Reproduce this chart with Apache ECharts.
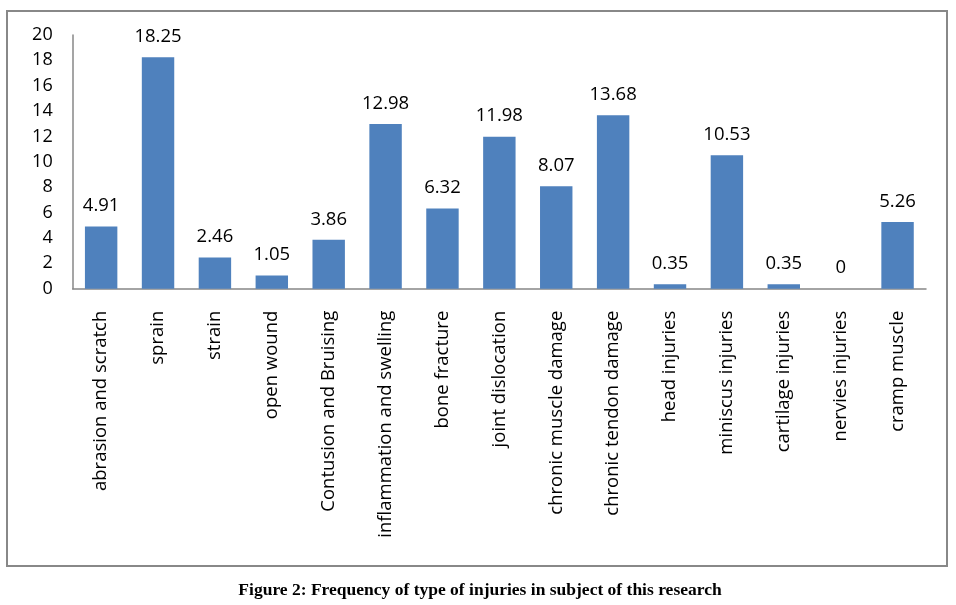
<!DOCTYPE html>
<html>
<head>
<meta charset="utf-8">
<script src="https://cdn.jsdelivr.net/npm/echarts@6/dist/echarts.min.js"></script>
<style>
html,body{margin:0;padding:0;background:#fff;}
#chart{width:956px;height:605px;}
</style>
</head>
<body>
<div id="chart"></div>
<script>
const categories = ["abrasion and scratch","sprain","strain","open wound","Contusion and Bruising","inflammation and swelling","bone fracture","joint dislocation","chronic muscle damage","chronic tendon damage","head injuries","miniscus injuries","cartilage injuries","nervies injuries","cramp muscle"];
const values = [4.91,18.25,2.46,1.05,3.86,12.98,6.32,11.98,8.07,13.68,0.35,10.53,0.35,0,5.26];
const captionText = "Figure 2: Frequency of type of injuries in subject of this research";

const chart = echarts.init(document.getElementById('chart'), null, {renderer:'canvas'});
const font = "'Open Sans', sans-serif";
chart.setOption({
  animation: false,
  backgroundColor: '#fff',
  grid: {left: 72.7, right: 30, top: 35, bottom: 316.3, containLabel: false},
  xAxis: {
    type: 'category',
    data: categories,
    axisLine: {lineStyle: {color: '#878787', width: 1.5}},
    axisTick: {show: false},
    axisLabel: {rotate: 90, interval: 0, margin: 22, color: '#000', fontFamily: font, fontSize: 18.5}
  },
  yAxis: {
    type: 'value',
    min: 0, max: 20, interval: 2,
    splitLine: {show: false},
    axisLine: {show: true, lineStyle: {color: '#878787', width: 1.5}},
    axisTick: {show: false},
    axisLabel: {margin: 20, color: '#000', fontFamily: font, fontSize: 18}
  },
  series: [{
    type: 'bar',
    data: values,
    barCategoryGap: '43%',
    itemStyle: {color: '#4F81BD'},
    label: {show: true, position: 'top', distance: 11, color: '#000', fontFamily: font, fontSize: 18.5}
  }],
  graphic: [
    {type: 'rect', shape: {x: 7, y: 11, width: 940, height: 555}, style: {fill: null, stroke: '#888', lineWidth: 2}, silent: true},
    {type: 'text', x: 480, y: 590, style: {text: captionText, fill: '#000', font: "bold 17.5px 'Liberation Serif', serif", textAlign: 'center', textVerticalAlign: 'middle'}}
  ]
});
</script>
</body>
</html>
